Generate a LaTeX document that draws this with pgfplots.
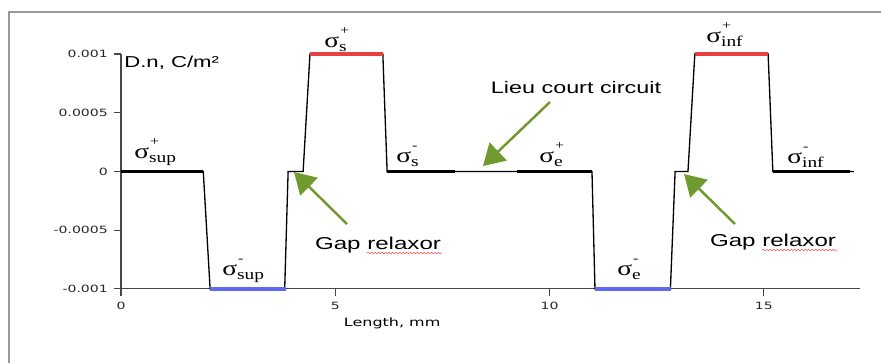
\documentclass[border=0pt]{standalone}
\usepackage{fontspec}
\usepackage{pgfplots}
\pgfplotsset{compat=1.18}
\usetikzlibrary{arrows.meta,decorations.pathmorphing}
\setmainfont{Liberation Sans}
\newfontfamily\wsans[FakeStretch=1.4]{Liberation Sans}
\newfontfamily\wserif[FakeStretch=1.3]{Liberation Serif}
\newfontfamily\wdv[FakeStretch=1.4]{DejaVu Sans}
\definecolor{arrowgreen}{RGB}{112,153,48}
\definecolor{segred}{RGB}{232,64,64}
\definecolor{segblue}{RGB}{96,104,240}
\definecolor{axgray}{RGB}{70,70,70}
% sigma with stacked superscript and subscript
\newcommand\sig[2]{{\wserif\fontsize{12}{13}\selectfont σ\makebox[0pt][l]{\hspace{0.5pt}\raisebox{7pt}{\fontsize{7}{7}\selectfont #1}}\raisebox{-2.5pt}{\fontsize{8.5}{9}\selectfont #2}}}

\begin{document}
\begin{tikzpicture}
% pixel grid of the reference, origin top-left
\begin{scope}[x=0.02cm,y=-0.02cm]
  \useasboundingbox (0,0) rectangle (881,363);
  \draw[gray!80, line width=0.6pt] (9,363) -- (9,12) -- (881,12);
\end{scope}

\begin{axis}[
    at={(2.42cm,-5.78cm)}, anchor=south west,
    scale only axis,
    width=14.78cm, height=4.70cm,
    xmin=0, xmax=17.24,
    ymin=-0.001, ymax=0.001,
    axis lines=left,
    axis line style={-, axgray, line width=0.6pt},
    tick style={axgray, line width=0.6pt},
    tick align=outside,
    major tick length=4pt,
    scaled y ticks=false,
    xtick={0,5,10,15},
    xticklabels={0,5,10,15},
    ytick={-0.001,-0.0005,0,0.0005,0.001},
    yticklabels={-0.001,-0.0005,0,0.0005,0.001},
    tick label style={font=\wdv\fontsize{5.7}{6}\selectfont, text=black!85},
    xlabel={Length, mm},
    xlabel style={at={(axis description cs:0.367,-0.145)}, anchor=center,
                  font=\wdv\fontsize{6.5}{7}\selectfont},
    clip=false,
]
% D.n profile along the sample
\addplot[black, line width=0.75pt] coordinates {
    (0,0) (1.92,0) (2.08,-0.001) (3.82,-0.001) (3.90,0) (4.25,0)
    (4.41,0.001) (6.11,0.001) (6.21,0) (10.99,0) (11.06,-0.001)
    (12.82,-0.001) (12.93,0) (13.23,0) (13.39,0.001) (15.10,0.001)
    (15.21,0) (17.10,0)
};
% highlighted levels
\addplot[black, line width=1.8pt] coordinates {(0,0) (1.92,0)};
\addplot[segblue, line width=1.8pt] coordinates {(2.08,-0.001) (3.85,-0.001)};
\addplot[segred, line width=1.8pt] coordinates {(4.41,0.001) (6.11,0.001)};
\addplot[black, line width=1.8pt] coordinates {(6.21,0) (7.79,0)};
\addplot[black, line width=1.8pt] coordinates {(9.24,0) (10.99,0)};
\addplot[segblue, line width=1.8pt] coordinates {(11.06,-0.001) (12.83,-0.001)};
\addplot[segred, line width=1.8pt] coordinates {(13.39,0.001) (15.10,0.001)};
\addplot[black, line width=1.8pt] coordinates {(15.21,0) (17.01,0)};
\end{axis}

\begin{scope}[x=0.02cm,y=-0.02cm]
  \node[anchor=base west, inner sep=0] at (124,67) {\wsans\fontsize{9}{10}\selectfont D.n, C/m²};
  \node[anchor=base, inner sep=0] at (576,93) {\wsans\fontsize{9.5}{10}\selectfont Lieu court circuit};
  \node[anchor=base, inner sep=0] at (378,249) {\wsans\fontsize{9.8}{10}\selectfont Gap relaxor};
  \node[anchor=base, inner sep=0] at (773,246) {\wsans\fontsize{9.8}{10}\selectfont Gap relaxor};
  \draw[red!70, line width=0.3pt, decorate, decoration={snake, amplitude=0.4pt, segment length=2pt}] (367,253) -- (442,253);
  \draw[red!70, line width=0.3pt, decorate, decoration={snake, amplitude=0.4pt, segment length=2pt}] (762,250) -- (837,250);

  \node[anchor=base west, inner sep=0] at (134,158) {\sig{+}{sup}};
  \node[anchor=base west, inner sep=0] at (222,275) {\sig{-}{sup}};
  \node[anchor=base west, inner sep=0] at (324,47) {\sig{+}{s}};
  \node[anchor=base west, inner sep=0] at (396,162) {\sig{-}{s}};
  \node[anchor=base west, inner sep=0] at (539,162) {\sig{+}{e}};
  \node[anchor=base west, inner sep=0] at (617,275) {\sig{-}{e}};
  \node[anchor=base west, inner sep=0] at (706,42) {\sig{+}{inf}};
  \node[anchor=base west, inner sep=0] at (787,163) {\sig{-}{inf}};

  \draw[arrowgreen, line width=1.4pt, -{Triangle[length=12pt, width=14pt]}] (550,102) -- (483,166);
  \draw[arrowgreen, line width=1.4pt, -{Triangle[length=12pt, width=14pt]}] (347,224) -- (294,172);
  \draw[arrowgreen, line width=1.4pt, -{Triangle[length=12pt, width=14pt]}] (735,224) -- (684,174);
\end{scope}
\end{tikzpicture}
\end{document}
